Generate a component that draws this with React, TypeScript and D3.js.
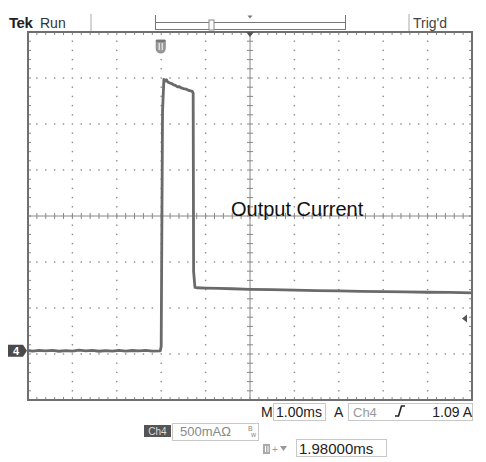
import React from "react";
import * as d3 from "d3";

// Scope screen geometry
const W = 486;
const H = 462;
const PLOT = { left: 28, right: 472, top: 32, bottom: 400 };

// Horizontal: 10 divisions at 1.00 ms/div; vertical: 8 divisions at 500 mA/div
const TIME_DIVS = d3.range(0, 11, 1);
const VERT_DIVS = d3.range(-4, 5, 1);
const MS_PER_DIV = 1.0;
const AMPS_PER_DIV = 0.5;
const CH4_OFFSET_DIV = -2.93; // ground marker position in divisions

// Ch4 output current trace (time in ms from left edge, current in A)
const traceMs = [
  0.0, 0.1, 0.25, 0.4, 0.55, 0.7, 0.85, 1.0, 1.15, 1.3, 1.45, 1.6, 1.75, 1.9, 2.05, 2.2, 2.35, 2.5, 2.65, 2.8, 2.98,
  3.0, 3.03, 3.06, 3.09, 3.12, 3.15, 3.2, 3.24, 3.28, 3.32, 3.36, 3.4, 3.44, 3.5, 3.56, 3.62, 3.7,
  3.72, 3.73, 3.76, 3.8, 4.0, 4.3, 4.6, 5.0, 5.5, 6.0, 6.5, 7.0, 7.5, 8.0, 8.5, 9.0, 9.5, 10.0,
];
const traceAmps = [
  0.003, -0.004, 0.005, -0.002, 0.004, -0.005, 0.002, -0.003, 0.006, -0.002, 0.004, -0.005, 0.002, -0.003, 0.005, -0.004, 0.003, -0.002, 0.004, -0.003, 0.0,
  0.05, 2.6, 2.95, 2.93, 2.945, 2.92, 2.91, 2.905, 2.89, 2.885, 2.87, 2.872, 2.86, 2.85, 2.845, 2.83, 2.82,
  2.8, 0.86, 0.69, 0.685, 0.682, 0.678, 0.674, 0.668, 0.665, 0.66, 0.654, 0.651, 0.646, 0.644, 0.64, 0.636, 0.634, 0.63,
];

const TRIGGER_MS = 3.0; // trigger point marker
const TRIGGER_LEVEL_A = 0.35; // trigger level arrow on the right edge

const TITLE_LEFT = "Tek";
const RUN_STATE = "Run";
const TRIG_STATE = "Trig'd";
const TRACE_LABEL = "Output Current";
const TIMEBASE = "1.00ms";
const TRIG_SOURCE = "Ch4";
const TRIG_LEVEL_TEXT = "1.09 A";
const CH_SCALE = "500mAΩ";
const H_POSITION = "1.98000ms";

const FONT = "'Liberation Sans', Arial, sans-serif";

export default function App() {
  const x = d3.scaleLinear().domain([0, 10 * MS_PER_DIV]).range([PLOT.left, PLOT.right]);
  const yDiv = d3.scaleLinear().domain([-4, 4]).range([PLOT.bottom, PLOT.top]);
  const y = d3
    .scaleLinear()
    .domain([(-4 - CH4_OFFSET_DIV) * AMPS_PER_DIV, (4 - CH4_OFFSET_DIV) * AMPS_PER_DIV])
    .range([PLOT.bottom, PLOT.top]);

  const cx = x(5);
  const cy = yDiv(0);
  const minorX = d3.range(0, 10.001, 0.2);
  const minorY = d3.range(-4, 4.001, 0.2);

  const line = d3
    .line<number>()
    .x((_, i) => x(traceMs[i]))
    .y((d) => y(d));

  const dots: JSX.Element[] = [];
  TIME_DIVS.filter((t) => t > 0 && t < 10 && t !== 5).forEach((t) => {
    minorY.forEach((v, k) => {
      if (k === 0 || k === minorY.length - 1) return;
      dots.push(
        <rect key={`v${t}-${k}`} x={x(t) - 0.7} y={yDiv(v) - 0.7} width={1.4} height={1.4} fill="#8a8a8a" />
      );
    });
  });
  VERT_DIVS.filter((v) => v > -4 && v < 4 && v !== 0).forEach((v) => {
    minorX.forEach((t, k) => {
      if (k === 0 || k === minorX.length - 1) return;
      if (Math.abs(t - Math.round(t)) < 1e-6) return;
      dots.push(
        <rect key={`h${v}-${k}`} x={x(t) - 0.7} y={yDiv(v) - 0.7} width={1.4} height={1.4} fill="#8a8a8a" />
      );
    });
  });

  const ticks: JSX.Element[] = [];
  minorX.forEach((t, k) => {
    const px = x(t);
    ticks.push(<line key={`tt${k}`} x1={px} x2={px} y1={PLOT.top} y2={PLOT.top + 3} />);
    ticks.push(<line key={`tb${k}`} x1={px} x2={px} y1={PLOT.bottom} y2={PLOT.bottom - 3} />);
    ticks.push(<line key={`tc${k}`} x1={px} x2={px} y1={cy - 3} y2={cy + 3} />);
  });
  minorY.forEach((v, k) => {
    const py = yDiv(v);
    ticks.push(<line key={`tl${k}`} x1={PLOT.left} x2={PLOT.left + 3} y1={py} y2={py} />);
    ticks.push(<line key={`tr${k}`} x1={PLOT.right} x2={PLOT.right - 3} y1={py} y2={py} />);
    ticks.push(<line key={`tm${k}`} x1={cx - 3} x2={cx + 3} y1={py} y2={py} />);
  });

  const trigX = x(TRIGGER_MS);
  const gndY = y(0);
  const lvlY = y(TRIGGER_LEVEL_A);

  return (
    <svg
      width={W}
      height={H}
      style={{ position: "absolute", left: 0, top: 0, background: "#fff" }}
      fontFamily={FONT}
    >
      <rect width={W} height={H} fill="#fff" />

      {/* status line */}
      <text x={9} y={28} fontSize={15} fontWeight="bold" fill="#222" letterSpacing={-0.5}>
        {TITLE_LEFT}
      </text>
      <text x={40} y={28} fontSize={14} fill="#333">
        {RUN_STATE}
      </text>
      <line x1={91} x2={91} y1={14} y2={31} stroke="#aaa" strokeWidth={1} />
      <line x1={409} x2={409} y1={14} y2={31} stroke="#aaa" strokeWidth={1} />
      <text x={413} y={28} fontSize={14} fill="#444">
        {TRIG_STATE}
      </text>
      {/* record view bracket */}
      <g stroke="#777" strokeWidth={1} fill="none">
        <line x1={155.5} x2={155.5} y1={15} y2={30} />
        <line x1={345.5} x2={345.5} y1={15} y2={30} />
        <line x1={155.5} x2={345.5} y1={22.5} y2={22.5} />
        <line x1={155.5} x2={345.5} y1={29.5} y2={29.5} />
      </g>
      <rect x={209} y={20} width={5} height={10} fill="#fff" stroke="#888" strokeWidth={1} />
      <path d={`M${cx - 2.5},15.5 L${cx + 2.5},15.5 L${cx},18.5 Z`} fill="#777" />

      {/* graticule */}
      <g>{dots}</g>
      <g stroke="#888" strokeWidth={1}>
        <line x1={cx} x2={cx} y1={PLOT.top} y2={PLOT.bottom} />
        <line x1={PLOT.left} x2={PLOT.right} y1={cy} y2={cy} />
        {ticks}
      </g>
      <rect
        x={PLOT.left}
        y={PLOT.top}
        width={PLOT.right - PLOT.left}
        height={PLOT.bottom - PLOT.top}
        fill="none"
        stroke="#6f6f6f"
        strokeWidth={2}
      />

      {/* trigger position marker */}
      <path d={`M${cx - 4},${PLOT.top} L${cx + 4},${PLOT.top} L${cx},${PLOT.top + 5} Z`} fill="#555" />
      {/* trigger point marker */}
      <g>
        <path
          d={`M${trigX - 5},40 L${trigX + 4},40 L${trigX + 4},48 Q${trigX + 4},53 ${trigX - 0.5},53 Q${trigX - 5},53 ${trigX - 5},48 Z`}
          fill="#999"
          stroke="#888"
          strokeWidth={1}
        />
        <line x1={trigX - 2} x2={trigX - 2} y1={43} y2={50} stroke="#fff" strokeWidth={1} />
        <line x1={trigX + 1} x2={trigX + 1} y1={43} y2={50} stroke="#fff" strokeWidth={1} />
        <line x1={trigX - 5} x2={trigX + 4} y1={41} y2={41} stroke="#777" strokeWidth={2} />
      </g>

      {/* trace */}
      <path
        d={line(traceAmps) || ""}
        fill="none"
        stroke="#6a6a6a"
        strokeWidth={2.8}
        strokeLinejoin="round"
      />

      <text x={231} y={216} fontSize={20} fill="#111">
        {TRACE_LABEL}
      </text>

      {/* channel ground marker */}
      <path d={`M8,${gndY - 6} L23,${gndY - 6} L27,${gndY} L23,${gndY + 6} L8,${gndY + 6} Z`} fill="#4a4a4a" />
      <text x={16} y={gndY + 4} fontSize={11} fontWeight="bold" fill="#fff" textAnchor="middle">
        4
      </text>
      {/* trigger level marker */}
      <path d={`M462,${lvlY} L467,${lvlY - 4} L467,${lvlY + 4} Z`} fill="#555" />

      {/* readouts */}
      <text x={261} y={417} fontSize={14} fill="#222">
        M
      </text>
      <rect x={273.5} y={403.5} width={52} height={17} fill="none" stroke="#c8c8c8" />
      <text x={276} y={417} fontSize={14} fill="#222">
        {TIMEBASE}
      </text>
      <text x={334} y={417} fontSize={14} fill="#222">
        A
      </text>
      <rect x={348.5} y={403.5} width={124} height={17} fill="none" stroke="#c8c8c8" />
      <text x={353} y={417} fontSize={13} fill="#999">
        {TRIG_SOURCE}
      </text>
      <path d="M395,416 L398.5,416 L401.5,406 L405,406" fill="none" stroke="#222" strokeWidth={1.6} />
      <text x={472} y={417} fontSize={14} fill="#222" textAnchor="end">
        {TRIG_LEVEL_TEXT}
      </text>

      <rect x={144} y={425} width={27} height={12} fill="#555" />
      <text x={157.5} y={435} fontSize={10} fill="#ddd" textAnchor="middle">
        {TRIG_SOURCE}
      </text>
      <rect x={172.5} y={423.5} width={86} height={17} fill="none" stroke="#c8c8c8" />
      <text x={180} y={436} fontSize={13} fill="#888">
        {CH_SCALE}
      </text>
      <text x={248} y={431} fontSize={7} fill="#888">
        B
      </text>
      <text x={251} y={437} fontSize={7} fill="#888">
        w
      </text>

      <rect x={263} y={444} width={7} height={10} fill="#aaa" />
      <line x1={265.5} x2={265.5} y1={446} y2={452} stroke="#fff" />
      <line x1={268} x2={268} y1={446} y2={452} stroke="#fff" />
      <text x={272} y={453} fontSize={10} fill="#999">
        +
      </text>
      <path d="M280,446 L287,446 L283.5,451 Z" fill="#999" />
      <rect x={296.5} y={439.5} width={90} height={17} fill="none" stroke="#c8c8c8" />
      <text x={299} y={454} fontSize={15} fill="#222">
        {H_POSITION}
      </text>
    </svg>
  );
}
